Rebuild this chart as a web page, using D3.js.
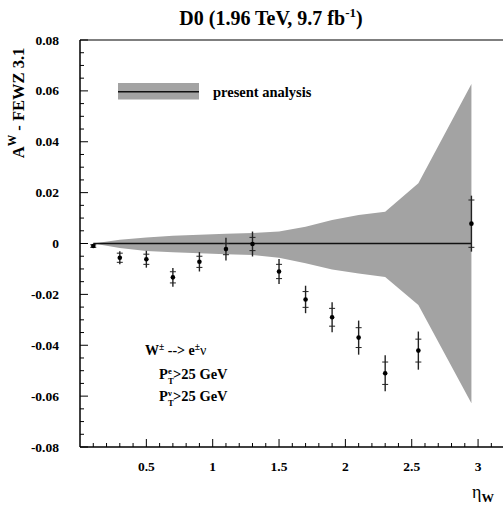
<!DOCTYPE html>
<html><head><meta charset="utf-8">
<script src="https://cdn.jsdelivr.net/npm/d3@7"></script>
<style>body{margin:0;background:#fff}svg{display:block}text{font-family:"Liberation Serif","Times New Roman",serif;font-weight:bold}</style>
</head><body><svg id="c" width="503" height="506"></svg>
<script>
const eta      = [0.1, 0.3, 0.5, 0.7, 0.9, 1.1, 1.3, 1.5, 1.7, 1.9, 2.1, 2.3, 2.55, 2.95];
const diff     = [-0.001, -0.0056, -0.0062, -0.0133, -0.0072, -0.0022, -0.0002, -0.011, -0.022, -0.029, -0.037, -0.051, -0.0421, 0.0078];
const statErr  = [0.0005, 0.0018, 0.002, 0.0022, 0.0022, 0.0022, 0.0026, 0.0028, 0.0031, 0.0035, 0.0039, 0.0044, 0.0045, 0.0093];
const totErr   = [0.0008, 0.0026, 0.0033, 0.0037, 0.0038, 0.0045, 0.0049, 0.0049, 0.0054, 0.0059, 0.0067, 0.0071, 0.0075, 0.011];
const bandUp   = [0, 0.0015, 0.0024, 0.003, 0.0034, 0.0038, 0.0041, 0.0047, 0.0066, 0.0092, 0.0112, 0.0125, 0.0237, 0.0627];
const bandLow  = [0, -0.0018, -0.0029, -0.0034, -0.0038, -0.0042, -0.0045, -0.0056, -0.0078, -0.0102, -0.0118, -0.0132, -0.0242, -0.0628];
const xTicks   = [0.5, 1, 1.5, 2, 2.5, 3];
const yTicks   = [-0.08, -0.06, -0.04, -0.02, 0, 0.02, 0.04, 0.06, 0.08];

const svg = d3.select("#c");
const x = d3.scaleLinear().domain([0, 3.2]).range([80, 504.6]);
const y = d3.scaleLinear().domain([-0.08, 0.08]).range([447, 40]);
const grey = "#a3a3a3";

// band
const pts = eta.map((e,i)=>({e, u:bandUp[i], l:bandLow[i]}));
svg.append("path").datum(pts)
  .attr("d", d3.area().x(d=>x(d.e)).y0(d=>y(d.l)).y1(d=>y(d.u)))
  .attr("fill", grey);
// zero line
svg.append("line").attr("x1", x(eta[0])).attr("x2", x(eta[eta.length-1]))
  .attr("y1", y(0)).attr("y2", y(0)).attr("stroke","#111").attr("stroke-width",1.4);

// frame
svg.append("line").attr("x1",80).attr("x2",503).attr("y1",40).attr("y2",40).attr("stroke","#000").attr("stroke-width",1.2);
svg.append("line").attr("x1",80).attr("x2",80).attr("y1",40).attr("y2",447).attr("stroke","#000").attr("stroke-width",1.5);
svg.append("line").attr("x1",80).attr("x2",503).attr("y1",447).attr("y2",447).attr("stroke","#000").attr("stroke-width",1.5);

// y ticks
const yMinor = d3.range(-0.08, 0.0801, 0.005);
svg.append("g").selectAll("line").data(yMinor).join("line")
  .attr("x1",80).attr("x2",d=>Math.abs(Math.round(d*1000)%20)===0?88:84)
  .attr("y1",d=>y(d)).attr("y2",d=>y(d)).attr("stroke","#000").attr("stroke-width",1);
svg.append("g").selectAll("text").data(yTicks).join("text")
  .attr("x",59).attr("y",d=>y(d)+4.5).attr("text-anchor","end").attr("font-size",13.5)
  .text(d=>d===0?"0":d3.format(".2f")(d).replace("\u2212","-"));
// x ticks
const xMinor = d3.range(0.1, 3.201, 0.1);
svg.append("g").selectAll("line").data(xMinor).join("line")
  .attr("x1",d=>x(d)).attr("x2",d=>x(d)).attr("y1",447)
  .attr("y2",d=>Math.round(d*10)%5===0?439:443).attr("stroke","#000").attr("stroke-width",1);
svg.append("g").selectAll("text").data(xTicks).join("text")
  .attr("x",d=>x(d)).attr("y",471).attr("text-anchor","middle").attr("font-size",13.5)
  .text(d=>String(d));

// error bars
const g = svg.append("g");
eta.forEach((e,i)=>{
  const cx = x(e);
  g.append("line").attr("x1",cx).attr("x2",cx).attr("y1",y(diff[i]+totErr[i])).attr("y2",y(diff[i]-totErr[i]))
    .attr("stroke","#222").attr("stroke-width",1.4);
  [diff[i]+statErr[i], diff[i]-statErr[i]].forEach(v=>{
    g.append("line").attr("x1",cx-3).attr("x2",cx+3).attr("y1",y(v)).attr("y2",y(v)).attr("stroke","#222").attr("stroke-width",1);
  });
  g.append("circle").attr("cx",cx).attr("cy",y(diff[i])).attr("r",2.3).attr("fill","#000");
});

// legend
svg.append("rect").attr("x",118).attr("y",83).attr("width",81).attr("height",16.5).attr("fill",grey);
svg.append("line").attr("x1",118).attr("x2",199).attr("y1",91.7).attr("y2",91.7).attr("stroke","#111").attr("stroke-width",1.4);
svg.append("text").attr("x",213).attr("y",96.5).attr("font-size",14.5).text("present analysis");

// title
const t = svg.append("text").attr("x",271).attr("y",25).attr("text-anchor","middle").attr("font-size",20);
t.append("tspan").text("D0 (1.96 TeV, 9.7 fb");
t.append("tspan").attr("dy",-8).attr("font-size",13).text("-1");
t.append("tspan").attr("dy",8).text(")");

// y label
const yl = svg.append("text").attr("transform","translate(24,103) rotate(-90)").attr("text-anchor","middle").attr("font-size",16.5);
yl.append("tspan").text("A");
yl.append("tspan").attr("dy",-8).attr("font-size",11.5).text("W");
yl.append("tspan").attr("dy",8).text(" - FEWZ 3.1");

// x label
const xl = svg.append("text").attr("x",472).attr("y",498).attr("font-size",18).attr("font-weight","normal");
xl.append("tspan").attr("font-weight","normal").text("η");
xl.append("tspan").attr("dy",4).attr("font-size",12.5).attr("font-weight","bold").text("W");

// annotations
const a1 = svg.append("text").attr("x",145).attr("y",355).attr("font-size",14);
a1.append("tspan").text("W");
a1.append("tspan").attr("dy",-5).attr("font-size",9.5).text("±");
a1.append("tspan").attr("dy",5).text(" --> e");
a1.append("tspan").attr("dy",-5).attr("font-size",9.5).text("±");
a1.append("tspan").attr("dy",5).attr("font-weight","normal").text("ν");
function ptLine(yy, sup){
  svg.append("text").attr("x",159).attr("y",yy).attr("font-size",14.5).text("P");
  svg.append("text").attr("x",168).attr("y",yy-5).attr("font-size",8.5)
    .attr("font-weight",sup==="ν"?"normal":"bold").text(sup);
  svg.append("text").attr("x",168).attr("y",yy+5).attr("font-size",8.5).text("T");
  svg.append("text").attr("x",173).attr("y",yy).attr("font-size",14.5).text(">25 GeV");
}
ptLine(379,"e");
ptLine(401,"ν");
</script></body></html>
